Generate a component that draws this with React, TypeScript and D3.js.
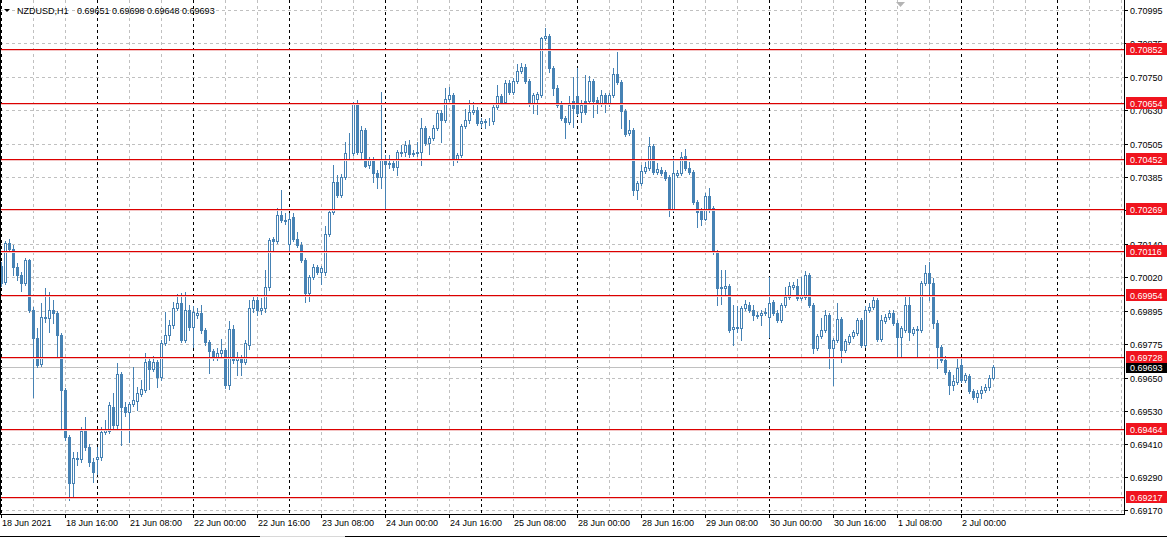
import React from 'react';
import * as d3 from 'd3';

// NZDUSD H1 candles, 18 Jun 2021 00:00 .. 2 Jul 2021 08:00
const opens = [
  0.70060, 0.70002, 0.70144, 0.70122, 0.70056, 0.70027, 0.69998, 0.70082, 0.69899, 0.69797,
  0.69702, 0.69874, 0.69870, 0.69899, 0.69888, 0.69808, 0.69607, 0.69436, 0.69268, 0.69359,
  0.69356, 0.69458, 0.69399, 0.69345, 0.69356, 0.69363, 0.69454, 0.69458, 0.69545, 0.69480,
  0.69666, 0.69545, 0.69527, 0.69556, 0.69567, 0.69593, 0.69607, 0.69713, 0.69684, 0.69710,
  0.69655, 0.69779, 0.69808, 0.69845, 0.69907, 0.69925, 0.69790, 0.69899, 0.69837, 0.69881,
  0.69888, 0.69826, 0.69783, 0.69750, 0.69728, 0.69742, 0.69753, 0.69626, 0.69830, 0.69717,
  0.69724, 0.69710, 0.69772, 0.69907, 0.69936, 0.69899, 0.69907, 0.69983, 0.70159, 0.70151,
  0.70246, 0.70228, 0.70140, 0.70239, 0.70159, 0.70137, 0.70082, 0.69961, 0.70020, 0.70056,
  0.70038, 0.70038, 0.70177, 0.70257, 0.70367, 0.70319, 0.70385, 0.70472, 0.70472, 0.70655,
  0.70476, 0.70556, 0.70429, 0.70450, 0.70399, 0.70385, 0.70447, 0.70432, 0.70436, 0.70421,
  0.70472, 0.70476, 0.70502, 0.70469, 0.70472, 0.70476, 0.70563, 0.70509, 0.70527, 0.70563,
  0.70619, 0.70593, 0.70670, 0.70684, 0.70447, 0.70465, 0.70571, 0.70593, 0.70622, 0.70629,
  0.70582, 0.70586, 0.70589, 0.70589, 0.70640, 0.70681, 0.70659, 0.70728, 0.70695, 0.70735,
  0.70772, 0.70786, 0.70735, 0.70651, 0.70670, 0.70684, 0.70892, 0.70900, 0.70783, 0.70710,
  0.70648, 0.70600, 0.70586, 0.70662, 0.70681, 0.70622, 0.70662, 0.70662, 0.70735, 0.70666,
  0.70651, 0.70684, 0.70651, 0.70684, 0.70761, 0.70732, 0.70626, 0.70545, 0.70556, 0.70337,
  0.70363, 0.70407, 0.70418, 0.70498, 0.70403, 0.70410, 0.70403, 0.70385, 0.70268, 0.70392,
  0.70399, 0.70461, 0.70418, 0.70403, 0.70294, 0.70264, 0.70232, 0.70316, 0.70272, 0.70111,
  0.69980, 0.69980, 0.69987, 0.69830, 0.69837, 0.69834, 0.69907, 0.69918, 0.69899, 0.69881,
  0.69881, 0.69888, 0.69874, 0.69929, 0.69888, 0.69863, 0.69918, 0.69947, 0.69983, 0.69987,
  0.69943, 0.69947, 0.70027, 0.69918, 0.69761, 0.69804, 0.69826, 0.69881, 0.69761, 0.69790,
  0.69866, 0.69753, 0.69783, 0.69804, 0.69815, 0.69863, 0.69772, 0.69899, 0.69910, 0.69936,
  0.69794, 0.69859, 0.69874, 0.69888, 0.69852, 0.69801, 0.69826, 0.69918, 0.69815, 0.69830,
  0.69826, 0.69998, 0.70034, 0.69998, 0.69852, 0.69764, 0.69717, 0.69673, 0.69626, 0.69637,
  0.69699, 0.69644, 0.69658, 0.69604, 0.69582, 0.69596, 0.69607, 0.69618, 0.69651,
];
const highs = [
  0.70075, 0.70151, 0.70159, 0.70137, 0.70071, 0.70038, 0.70089, 0.70086, 0.69910, 0.69834,
  0.69925, 0.69980, 0.69965, 0.69936, 0.69896, 0.69815, 0.69615, 0.69443, 0.69381, 0.69381,
  0.69472, 0.69509, 0.69410, 0.69359, 0.69399, 0.69472, 0.69498, 0.69564, 0.69596, 0.69706,
  0.69673, 0.69564, 0.69564, 0.69691, 0.69618, 0.69644, 0.69742, 0.69724, 0.69732, 0.69717,
  0.69790, 0.69892, 0.69863, 0.69929, 0.69958, 0.69961, 0.69965, 0.69918, 0.69914, 0.69907,
  0.69918, 0.69834, 0.69790, 0.69757, 0.69761, 0.69794, 0.69761, 0.69859, 0.69845, 0.69746,
  0.69735, 0.69790, 0.69936, 0.69951, 0.69947, 0.69943, 0.70045, 0.70162, 0.70166, 0.70272,
  0.70337, 0.70253, 0.70253, 0.70253, 0.70184, 0.70148, 0.70089, 0.70027, 0.70067, 0.70064,
  0.70060, 0.70206, 0.70264, 0.70429, 0.70392, 0.70396, 0.70513, 0.70545, 0.70659, 0.70666,
  0.70571, 0.70563, 0.70458, 0.70458, 0.70410, 0.70695, 0.70465, 0.70465, 0.70447, 0.70483,
  0.70502, 0.70516, 0.70520, 0.70483, 0.70513, 0.70600, 0.70571, 0.70535, 0.70575, 0.70629,
  0.70629, 0.70710, 0.70713, 0.70691, 0.70472, 0.70578, 0.70633, 0.70666, 0.70659, 0.70640,
  0.70600, 0.70597, 0.70600, 0.70651, 0.70721, 0.70688, 0.70739, 0.70739, 0.70746, 0.70797,
  0.70801, 0.70797, 0.70742, 0.70691, 0.70695, 0.70896, 0.70929, 0.70907, 0.70790, 0.70721,
  0.70662, 0.70607, 0.70681, 0.70750, 0.70783, 0.70666, 0.70757, 0.70753, 0.70742, 0.70677,
  0.70702, 0.70691, 0.70691, 0.70783, 0.70841, 0.70739, 0.70633, 0.70593, 0.70563, 0.70370,
  0.70429, 0.70440, 0.70531, 0.70505, 0.70436, 0.70421, 0.70410, 0.70392, 0.70458, 0.70410,
  0.70476, 0.70487, 0.70440, 0.70410, 0.70301, 0.70272, 0.70326, 0.70345, 0.70279, 0.70118,
  0.70045, 0.70045, 0.69994, 0.69918, 0.69914, 0.69914, 0.69936, 0.69929, 0.69918, 0.69892,
  0.69899, 0.69907, 0.70020, 0.69936, 0.69899, 0.69925, 0.69983, 0.70002, 0.70002, 0.70013,
  0.70020, 0.70042, 0.70034, 0.69925, 0.69812, 0.69870, 0.69899, 0.69888, 0.69797, 0.69925,
  0.69874, 0.69794, 0.69812, 0.69826, 0.69870, 0.69870, 0.69914, 0.69925, 0.69947, 0.69943,
  0.69881, 0.69885, 0.69899, 0.69899, 0.69863, 0.69841, 0.69954, 0.69947, 0.69837, 0.69841,
  0.70005, 0.70064, 0.70075, 0.70016, 0.69863, 0.69772, 0.69732, 0.69680, 0.69662, 0.69724,
  0.69724, 0.69669, 0.69666, 0.69611, 0.69607, 0.69622, 0.69629, 0.69662, 0.69698,
];
const lows = [
  0.69987, 0.69994, 0.70115, 0.70027, 0.70009, 0.69969, 0.69991, 0.69892, 0.69582, 0.69691,
  0.69695, 0.69856, 0.69819, 0.69852, 0.69724, 0.69469, 0.69425, 0.69206, 0.69213, 0.69334,
  0.69345, 0.69388, 0.69330, 0.69272, 0.69301, 0.69352, 0.69447, 0.69451, 0.69469, 0.69469,
  0.69407, 0.69513, 0.69418, 0.69549, 0.69534, 0.69585, 0.69600, 0.69611, 0.69677, 0.69618,
  0.69644, 0.69772, 0.69790, 0.69834, 0.69899, 0.69783, 0.69783, 0.69826, 0.69764, 0.69870,
  0.69815, 0.69772, 0.69669, 0.69717, 0.69717, 0.69732, 0.69615, 0.69611, 0.69706, 0.69662,
  0.69662, 0.69702, 0.69757, 0.69892, 0.69881, 0.69885, 0.69892, 0.69972, 0.70118, 0.70144,
  0.70221, 0.70213, 0.70118, 0.70151, 0.70129, 0.70075, 0.69929, 0.69932, 0.70013, 0.70031,
  0.69994, 0.70027, 0.70170, 0.70250, 0.70312, 0.70312, 0.70378, 0.70447, 0.70465, 0.70469,
  0.70447, 0.70421, 0.70418, 0.70367, 0.70345, 0.70345, 0.70264, 0.70418, 0.70410, 0.70392,
  0.70461, 0.70461, 0.70458, 0.70461, 0.70461, 0.70429, 0.70502, 0.70469, 0.70520, 0.70556,
  0.70513, 0.70586, 0.70662, 0.70429, 0.70440, 0.70458, 0.70563, 0.70582, 0.70615, 0.70575,
  0.70567, 0.70563, 0.70575, 0.70578, 0.70633, 0.70651, 0.70651, 0.70688, 0.70688, 0.70728,
  0.70764, 0.70728, 0.70644, 0.70619, 0.70615, 0.70677, 0.70885, 0.70768, 0.70684, 0.70640,
  0.70593, 0.70527, 0.70578, 0.70567, 0.70611, 0.70586, 0.70615, 0.70655, 0.70604, 0.70619,
  0.70644, 0.70622, 0.70644, 0.70677, 0.70724, 0.70563, 0.70535, 0.70538, 0.70319, 0.70304,
  0.70356, 0.70399, 0.70410, 0.70396, 0.70396, 0.70392, 0.70374, 0.70243, 0.70261, 0.70385,
  0.70392, 0.70410, 0.70396, 0.70286, 0.70202, 0.70210, 0.70228, 0.70257, 0.70104, 0.69918,
  0.69921, 0.69954, 0.69819, 0.69772, 0.69819, 0.69790, 0.69899, 0.69892, 0.69863, 0.69870,
  0.69845, 0.69881, 0.69801, 0.69881, 0.69856, 0.69856, 0.69910, 0.69940, 0.69976, 0.69936,
  0.69936, 0.69940, 0.69910, 0.69742, 0.69753, 0.69797, 0.69819, 0.69688, 0.69626, 0.69783,
  0.69710, 0.69746, 0.69775, 0.69797, 0.69808, 0.69764, 0.69764, 0.69892, 0.69903, 0.69786,
  0.69786, 0.69852, 0.69866, 0.69845, 0.69724, 0.69724, 0.69819, 0.69790, 0.69808, 0.69724,
  0.69819, 0.69991, 0.69936, 0.69834, 0.69688, 0.69710, 0.69666, 0.69593, 0.69607, 0.69629,
  0.69637, 0.69637, 0.69596, 0.69575, 0.69564, 0.69578, 0.69600, 0.69607, 0.69648,
];
const closes = [
  0.69998, 0.70144, 0.70122, 0.70056, 0.70027, 0.69998, 0.70082, 0.69899, 0.69797, 0.69699,
  0.69874, 0.69870, 0.69899, 0.69888, 0.69808, 0.69607, 0.69436, 0.69268, 0.69359, 0.69356,
  0.69458, 0.69399, 0.69345, 0.69308, 0.69363, 0.69454, 0.69461, 0.69553, 0.69480, 0.69666,
  0.69545, 0.69527, 0.69556, 0.69571, 0.69596, 0.69611, 0.69710, 0.69684, 0.69710, 0.69655,
  0.69779, 0.69808, 0.69845, 0.69907, 0.69925, 0.69790, 0.69899, 0.69837, 0.69892, 0.69888,
  0.69826, 0.69783, 0.69750, 0.69728, 0.69742, 0.69753, 0.69626, 0.69830, 0.69717, 0.69724,
  0.69710, 0.69779, 0.69907, 0.69936, 0.69899, 0.69907, 0.69983, 0.70155, 0.70151, 0.70246,
  0.70228, 0.70224, 0.70232, 0.70159, 0.70137, 0.70082, 0.69961, 0.70020, 0.70056, 0.70038,
  0.70053, 0.70177, 0.70257, 0.70367, 0.70319, 0.70385, 0.70472, 0.70472, 0.70651, 0.70476,
  0.70556, 0.70425, 0.70450, 0.70399, 0.70385, 0.70447, 0.70432, 0.70436, 0.70421, 0.70476,
  0.70476, 0.70502, 0.70469, 0.70472, 0.70476, 0.70563, 0.70509, 0.70527, 0.70563, 0.70619,
  0.70593, 0.70670, 0.70684, 0.70447, 0.70465, 0.70571, 0.70593, 0.70622, 0.70629, 0.70582,
  0.70589, 0.70589, 0.70589, 0.70640, 0.70681, 0.70659, 0.70728, 0.70695, 0.70735, 0.70772,
  0.70786, 0.70735, 0.70651, 0.70684, 0.70688, 0.70892, 0.70900, 0.70783, 0.70710, 0.70648,
  0.70600, 0.70586, 0.70648, 0.70637, 0.70619, 0.70648, 0.70622, 0.70735, 0.70662, 0.70651,
  0.70684, 0.70651, 0.70684, 0.70761, 0.70732, 0.70626, 0.70542, 0.70556, 0.70337, 0.70363,
  0.70407, 0.70421, 0.70498, 0.70403, 0.70414, 0.70399, 0.70381, 0.70268, 0.70399, 0.70399,
  0.70458, 0.70418, 0.70403, 0.70294, 0.70257, 0.70232, 0.70316, 0.70264, 0.70111, 0.69980,
  0.69983, 0.69987, 0.69826, 0.69837, 0.69834, 0.69907, 0.69921, 0.69899, 0.69881, 0.69877,
  0.69888, 0.69892, 0.69925, 0.69888, 0.69863, 0.69918, 0.69947, 0.69987, 0.69991, 0.69943,
  0.69951, 0.70027, 0.69918, 0.69761, 0.69804, 0.69826, 0.69881, 0.69761, 0.69790, 0.69866,
  0.69753, 0.69786, 0.69804, 0.69819, 0.69863, 0.69772, 0.69899, 0.69910, 0.69936, 0.69794,
  0.69863, 0.69874, 0.69888, 0.69852, 0.69801, 0.69834, 0.69918, 0.69819, 0.69830, 0.69826,
  0.69998, 0.70034, 0.69998, 0.69852, 0.69764, 0.69717, 0.69673, 0.69626, 0.69640, 0.69688,
  0.69644, 0.69662, 0.69604, 0.69582, 0.69596, 0.69607, 0.69618, 0.69651, 0.69693,
];

// time scale labels, one every 16 bars
const timeLabels = [
  '18 Jun 2021', '18 Jun 16:00', '21 Jun 08:00', '22 Jun 00:00', '22 Jun 16:00',
  '23 Jun 08:00', '24 Jun 00:00', '24 Jun 16:00', '25 Jun 08:00', '28 Jun 00:00',
  '28 Jun 16:00', '29 Jun 08:00', '30 Jun 00:00', '30 Jun 16:00', '1 Jul 08:00', '2 Jul 00:00',
];

const priceTicks = [
  0.70995, 0.70875, 0.70750, 0.70630, 0.70505, 0.70385, 0.70265, 0.70140,
  0.70020, 0.69895, 0.69775, 0.69650, 0.69530, 0.69410, 0.69290, 0.69170,
];

// horizontal levels drawn on the chart
const levels = [0.70852, 0.70654, 0.70452, 0.70269, 0.70116, 0.69954, 0.69728, 0.69464, 0.69217];

const symbol = 'NZDUSD,H1';

const W = 1167;
const H = 538;
const PLOT_R = 1124;
const PLOT_B = 514;
const BLUE = '#4682b4';
const RED_LINE = '#dc0000';
const RED_BOX = '#f0141e';
const FONT = '"Liberation Sans", Arial, sans-serif';

const App: React.FC = () => {
  // 4px per hourly bar
  const x = d3.scaleLinear().domain([0, 280]).range([1, 1121]);
  const y = d3.scaleLinear().domain([0.691549, 0.710308]).range([PLOT_B, 0]);
  const snap = (v: number) => Math.round(v) + 0.5;

  const gridBars = d3.range(8, 281, 8);
  const dayBars = d3.range(0, 281, 24);
  const last = closes.length - 1;
  const fmt = (v: number) => v.toFixed(5);
  const ohlcText = [opens[last], highs[last], lows[last], closes[last]].map(fmt).join(' ');

  return (
    <div style={{ position: 'fixed', left: 0, top: 0, width: W, height: H, background: '#fff' }}>
      <svg width={W} height={H} style={{ display: 'block', fontFamily: FONT }}>
        <rect x={0} y={0} width={W} height={H} fill="#fff" />

        {/* horizontal grid */}
        {priceTicks.map((p) => (
          <line key={'hg' + p} x1={0} x2={PLOT_R} y1={snap(y(p))} y2={snap(y(p))}
            stroke="#c0c0c0" strokeDasharray="3,3" />
        ))}
        {/* vertical grid */}
        {gridBars.filter((b) => b % 24 !== 0).map((b) => (
          <line key={'vg' + b} x1={snap(x(b))} x2={snap(x(b))} y1={0} y2={PLOT_B}
            stroke="#c0c0c0" strokeDasharray="3,3" />
        ))}
        {/* day separators */}
        {dayBars.map((b) => (
          <line key={'ds' + b} x1={snap(x(b))} x2={snap(x(b))} y1={0} y2={PLOT_B}
            stroke="#000" strokeDasharray="3,3" />
        ))}

        {/* current price line */}
        <line x1={0} x2={PLOT_R} y1={snap(y(closes[last]))} y2={snap(y(closes[last]))} stroke="#c0c0c0" />

        {/* candles */}
        {closes.map((c, i) => {
          const o = opens[i];
          const cx = Math.round(x(i));
          const yH = Math.round(y(highs[i]));
          const yL = Math.round(y(lows[i]));
          const yO = Math.round(y(o));
          const yC = Math.round(y(c));
          const top = Math.min(yO, yC);
          const bot = Math.max(yO, yC);
          const bull = c >= o;
          return (
            <g key={'c' + i}>
              <line x1={cx + 0.5} x2={cx + 0.5} y1={yH} y2={yL + 1} stroke={BLUE} />
              {bull ? (
                <rect x={cx - 0.5} y={top + 0.5} width={2} height={bot - top}
                  fill="#fff" stroke={BLUE} />
              ) : (
                <rect x={cx - 1} y={top} width={3} height={bot - top + 1} fill={BLUE} />
              )}
            </g>
          );
        })}

        {/* levels */}
        {levels.map((p) => (
          <g key={'lv' + p}>
            <line x1={0} x2={PLOT_R} y1={snap(y(p))} y2={snap(y(p))} stroke={RED_LINE} />
            <line x1={0} x2={PLOT_R} y1={snap(y(p)) + 1} y2={snap(y(p)) + 1} stroke="#f3c4c4" />
          </g>
        ))}

        {/* frame */}
        <line x1={0.5} x2={0.5} y1={0} y2={PLOT_B} stroke="#000" />
        <line x1={PLOT_R + 0.5} x2={PLOT_R + 0.5} y1={0} y2={PLOT_B + 1} stroke="#000" />
        <line x1={0} x2={PLOT_R + 1} y1={PLOT_B + 0.5} y2={PLOT_B + 0.5} stroke="#000" />

        {/* price axis */}
        {priceTicks.map((p) => (
          <g key={'pt' + p}>
            <line x1={PLOT_R} x2={PLOT_R + 4} y1={snap(y(p))} y2={snap(y(p))} stroke="#000" />
            <text x={PLOT_R + 6} y={Math.round(y(p)) + 4} fontSize={9} fill="#000">{fmt(p)}</text>
          </g>
        ))}
        <rect x={PLOT_R + 2} y={Math.round(y(closes[last])) - 6} width={W - PLOT_R - 2} height={12} fill="#000" />
        <text x={PLOT_R + 6} y={Math.round(y(closes[last])) + 4} fontSize={9} fill="#fff">{fmt(closes[last])}</text>
        {levels.map((p) => (
          <g key={'lb' + p}>
            <rect x={PLOT_R + 2} y={Math.round(y(p)) - 6} width={W - PLOT_R - 2} height={12} fill={RED_BOX} />
            <text x={PLOT_R + 6} y={Math.round(y(p)) + 4} fontSize={9} fill="#fff">{fmt(p)}</text>
          </g>
        ))}

        {/* time axis */}
        {timeLabels.map((t, k) => (
          <g key={'tl' + k}>
            <line x1={snap(x(k * 16))} x2={snap(x(k * 16))} y1={PLOT_B} y2={PLOT_B + 4} stroke="#000" />
            <text x={Math.round(x(k * 16)) + 1} y={PLOT_B + 12} fontSize={9} fill="#000">{t}</text>
          </g>
        ))}

        {/* title */}
        <path d="M4,9 L10,9 L7,12 Z" fill="#000" />
        <text x={17} y={14} fontSize={9} fill="#000">{symbol}</text>
        <text x={77} y={14} fontSize={9} fill="#000">{ohlcText}</text>

        {/* shift marker */}
        <path d="M896,2 L905,2 L900.5,7 Z" fill="#b4b4b4" />

        {/* tab strip */}
        <line x1={0} x2={260} y1={536.5} y2={536.5} stroke="#000" />
        <line x1={260} x2={345} y1={536.5} y2={536.5} stroke="#d8d8d8" />
        <line x1={345} x2={W} y1={536.5} y2={536.5} stroke="#000" />
      </svg>
    </div>
  );
};

export default App;
